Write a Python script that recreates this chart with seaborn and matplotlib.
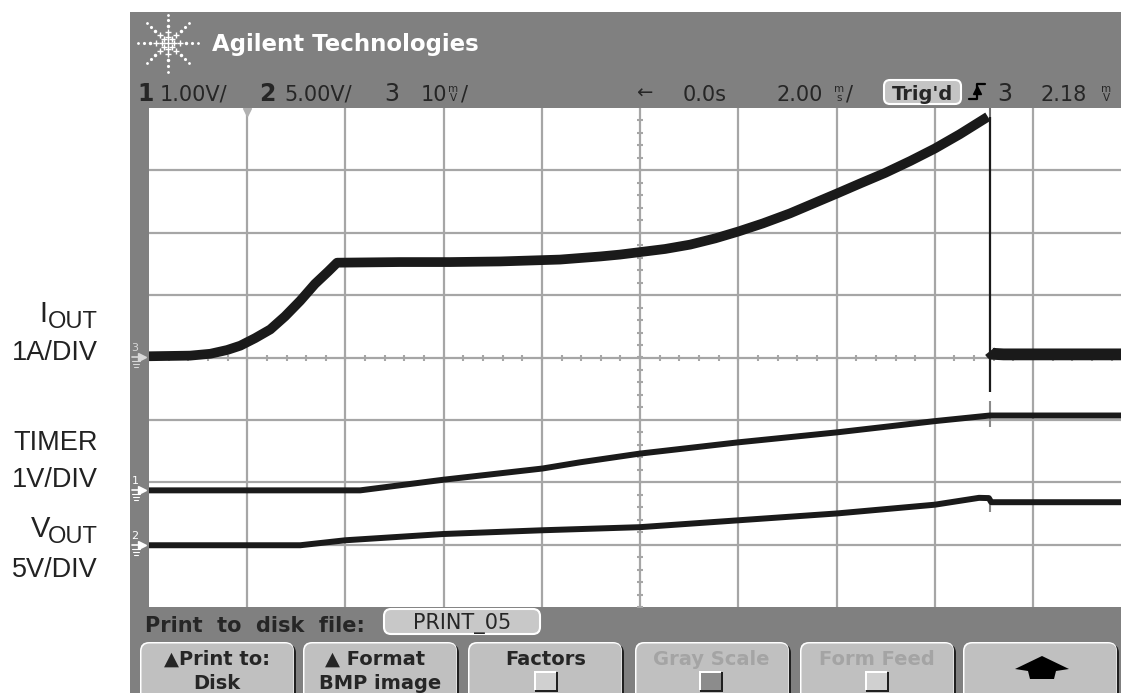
import matplotlib
matplotlib.use("Agg")
import numpy as np
import pandas as pd
import matplotlib.pyplot as plt
from matplotlib.patches import Rectangle, FancyBboxPatch, Polygon
import seaborn as sns

# ---- trace data (time in ms, 2 ms/div, trigger at 0) ----
iout_t = [-10.0, -9.16, -8.75, -8.41, -8.14, -7.84, -7.53, -7.23, -6.92, -6.62,
          -6.35, -6.17, -4.89, -3.87, -2.85, -1.63, -0.81, -0.41, 0.0, 0.51,
          1.02, 1.53, 2.0, 2.50, 3.05, 3.50, 4.01, 4.48, 4.99, 5.50, 6.0, 6.51, 7.08]
iout_a = [0.02, 0.03, 0.06, 0.12, 0.19, 0.31, 0.45, 0.66, 0.91, 1.18,
          1.38, 1.52, 1.53, 1.53, 1.54, 1.57, 1.62, 1.65, 1.69, 1.74,
          1.81, 1.91, 2.02, 2.15, 2.31, 2.46, 2.63, 2.79, 2.96, 3.15, 3.35, 3.58, 3.86]
trip_t = [7.12, 7.12]
trip_a = [3.86, -0.55]
iout_post_t = [7.12, 7.16, 7.4, 9.8]
iout_post_a = [0.10, 0.06, 0.05, 0.05]

timer_t = [-10.0, -5.70, -4.01, -1.99, -1.22, 0.0, 2.0, 4.01, 6.0, 7.12, 9.8]
timer_v = [0.0, 0.0, 0.17, 0.35, 0.45, 0.59, 0.77, 0.93, 1.11, 1.20, 1.20]

vout_t = [-10.0, -6.92, -6.0, -4.01, -2.0, 0.0, 2.0, 4.01, 6.0, 6.9, 7.1, 7.15, 9.8]
vout_v = [0.0, 0.0, 0.4, 0.9, 1.2, 1.45, 2.0, 2.55, 3.25, 3.8, 3.78, 3.45, 3.45]

# channel scale (units/div) and ground position (div from centre)
CH3_SCALE, CH3_GND = 1.0, 0.0     # IOUT 1A/DIV
CH1_SCALE, CH1_GND = 1.0, -2.13   # TIMER 1V/DIV
CH2_SCALE, CH2_GND = 5.0, -3.01   # VOUT 5V/DIV

W, H = 1121, 693
GRAY = "#808080"
GRID = "#a6a6a6"
TRACE = "#1a1a1a"
KEY = "#c0c0c0"
INK = "#222222"

sns.set_style("white")
plt.rcParams["font.family"] = ["DejaVu Sans"]
LABEL_FONT = ["Liberation Sans", "DejaVu Sans"]

fig = plt.figure(figsize=(W / 100, H / 100), dpi=100)
fig.patch.set_facecolor("white")

# overlay in pixel coordinates for the instrument frame
ov = fig.add_axes([0, 0, 1, 1])
ov.set_xlim(0, W)
ov.set_ylim(H, 0)
ov.axis("off")
ov.set_zorder(0)
ov.add_patch(Rectangle((130, 12), W - 130, H - 12, color=GRAY, lw=0))

ax = fig.add_axes([149 / W, (H - 607) / H, (W - 149) / W, 499 / H])
ax.set_zorder(1)
ax.set_facecolor("white")


def to_div(vals, scale, gnd):
    return [v / scale + gnd for v in vals]


iout = pd.DataFrame({"t": iout_t, "div": to_div(iout_a, CH3_SCALE, CH3_GND)})
post = pd.DataFrame({"t": iout_post_t, "div": to_div(iout_post_a, CH3_SCALE, CH3_GND)})
trip = pd.DataFrame({"t": trip_t, "div": to_div(trip_a, CH3_SCALE, CH3_GND)})
timer = pd.DataFrame({"t": timer_t, "div": to_div(timer_v, CH1_SCALE, CH1_GND)})
vout = pd.DataFrame({"t": vout_t, "div": to_div(vout_v, CH2_SCALE, CH2_GND)})

# graticule
ax.set_xlim(-10, (W - 640) / 98.25 * 2)
ax.set_ylim(-4, 4)
for x in np.arange(-8, 10, 2):
    ax.axvline(x, color=GRID, lw=1.6, zorder=1)
for y in np.arange(-3, 4, 1):
    ax.axhline(y, color=GRID, lw=1.6, zorder=1)
ticks_x = np.arange(-10, 10, 0.4)
ax.plot(ticks_x, np.zeros(len(ticks_x)), ls="none",
        marker="|", ms=5, mew=1.5, color=GRID, zorder=1)
ticks_y = np.arange(-4, 4, 0.2)
ax.plot(np.zeros(len(ticks_y)), ticks_y, ls="none", marker="_", ms=5, mew=1.5,
        color=GRID, zorder=1)
ax.plot([-8], [3.93], marker="v", ms=6, color="#b0b0b0", zorder=2)

# trip marker / fast edges
tt = trip_t[0]
ax.vlines([tt], [3.8], [4.0], color="#707070", lw=1.5, zorder=2)
ax.vlines([tt, tt], [-1.12, -2.48], [-0.70, -2.24], color="#8a8a8a", lw=1.5, zorder=2)

# traces
kw = dict(ax=ax, x="t", y="div", color=TRACE, sort=False, estimator=None, legend=False,
          zorder=3, solid_capstyle="butt", solid_joinstyle="round")
sns.lineplot(data=iout, linewidth=7, **kw)
sns.lineplot(data=post, linewidth=8.5, **kw)
sns.lineplot(data=trip, linewidth=1.6, **kw)
sns.lineplot(data=timer, linewidth=4.3, **kw)
sns.lineplot(data=vout, linewidth=4.3, **kw)

ax.set_xticks([])
ax.set_yticks([])
ax.set_xlabel("")
ax.set_ylabel("")
for s in ax.spines.values():
    s.set_visible(False)

# ---- header ----
ang = np.deg2rad(np.arange(0, 360, 45))
for r, m, ms in [(6, "+", 5), (12, "+", 5), (18, ".", 3), (24, ".", 2.5), (30, ".", 2)]:
    ov.plot(168 + r * np.cos(ang), 43 + r * 0.95 * np.sin(ang), ls="none", marker=m,
            ms=ms, mew=1, color="white")
ov.plot([168], [43], marker="+", ms=6, mew=1, color="white")
ov.text(212, 51, "Agilent Technologies", color="white", fontsize=16.5,
        fontweight="bold", va="baseline")

row = 101
ov.text(137, row, "1", fontsize=17, fontweight="bold", va="baseline")
ov.text(160, row, "1.00V/", fontsize=15, va="baseline")
ov.text(259, row, "2", fontsize=17, fontweight="bold", va="baseline")
ov.text(284, row, "5.00V/", fontsize=15, va="baseline")
ov.text(384, row, "3", fontsize=17, va="baseline")
ov.text(421, row, "10", fontsize=15, va="baseline")


def stacked(x, top, bot):
    ov.text(x, 92, top, fontsize=7.5, ha="center", va="baseline")
    ov.text(x, 101, bot, fontsize=7.5, ha="center", va="baseline")


stacked(453, "m", "V")
ov.text(461, row, "/", fontsize=15, va="baseline")

ov.text(644, row - 2, "←", fontsize=14, ha="center", va="baseline")
ov.text(683, row, "0.0s", fontsize=15, va="baseline")
ov.text(776, row, "2.00", fontsize=15, va="baseline")
stacked(839, "m", "s")
ov.text(846, row, "/", fontsize=15, va="baseline")

ov.add_patch(FancyBboxPatch((884, 80), 77, 24, boxstyle="round,pad=0,rounding_size=6",
                            fc="#c4c4c4", ec="white", lw=1.5))
ov.text(922, row - 1, "Trig'd", fontsize=14, fontweight="bold", ha="center", va="baseline")
ov.plot([969, 977, 977, 985], [99, 99, 84, 84], color="black", lw=1.6)
ov.plot([977], [90], marker="^", ms=6, color="black")
ov.text(997, row, "3", fontsize=17, va="baseline")
ov.text(1041, row, "2.18", fontsize=15, va="baseline")
stacked(1106, "m", "V")

# ---- channel ground markers ----
for lab, yg, col in [("3", 357, "#d8d8d8"), ("1", 490, "white"), ("2", 545, "white")]:
    ov.text(135, yg - 6, lab, fontsize=8, color=col, ha="center", va="baseline")
    ov.plot([142], [yg], marker=">", ms=6, color=col)
    ov.plot([132, 141], [yg, yg], color=col, lw=1.2)
    for i, w in enumerate([8, 6, 4]):
        ov.plot([136 - w / 2, 136 + w / 2], [yg + 4 + 3 * i] * 2, color=col, lw=0.8)

# ---- left labels ----
lab_kw = dict(family=LABEL_FONT, ha="right", va="baseline", color=INK)
ov.text(47, 322, "I", fontsize=21, **lab_kw)
ov.text(98, 328, "OUT", fontsize=17, **lab_kw)
ov.text(98, 360, "1A/DIV", fontsize=19.5, **lab_kw)
ov.text(98, 450, "TIMER", fontsize=19.5, **lab_kw)
ov.text(98, 487, "1V/DIV", fontsize=19.5, **lab_kw)
ov.text(50, 537, "V", fontsize=21, **lab_kw)
ov.text(98, 543, "OUT", fontsize=17, **lab_kw)
ov.text(98, 577, "5V/DIV", fontsize=19.5, **lab_kw)

# ---- bottom menu ----
ov.text(145, 632, "Print  to  disk  file:", fontsize=15, fontweight="bold", va="baseline")
ov.add_patch(FancyBboxPatch((384, 609), 156, 25, boxstyle="round,pad=0,rounding_size=7",
                            fc="#c8c8c8", ec="white", lw=1.5))
ov.text(462, 629, "PRINT_05", fontsize=15, ha="center", va="baseline")

keys = [140, 303, 468, 635, 800, 963]
for x0 in keys:
    ov.add_patch(FancyBboxPatch((x0 + 2, 644), 154, 70, boxstyle="round,pad=0,rounding_size=9",
                                fc="#202020", ec="none"))
    ov.add_patch(FancyBboxPatch((x0, 642), 154, 70, boxstyle="round,pad=0,rounding_size=9",
                                fc="white", ec="none"))
    ov.add_patch(FancyBboxPatch((x0 + 1.5, 643.5), 152, 68, boxstyle="round,pad=0,rounding_size=8",
                                fc=KEY, ec="none"))

ov.text(217, 665, "▲Print to:", fontsize=14, fontweight="bold", ha="center", va="baseline")
ov.text(217, 689, "Disk", fontsize=14, fontweight="bold", ha="center", va="baseline")
ov.text(375, 665, "▲ Format", fontsize=14, fontweight="bold", ha="center", va="baseline")
ov.text(380, 689, "BMP image", fontsize=14, fontweight="bold", ha="center", va="baseline")
ov.text(546, 665, "Factors", fontsize=14, fontweight="bold", ha="center", va="baseline")
ov.text(711, 665, "Gray Scale", fontsize=14, fontweight="bold", color="#a4a4a4",
        ha="center", va="baseline")
ov.text(877, 665, "Form Feed", fontsize=14, fontweight="bold", color="#a4a4a4",
        ha="center", va="baseline")
for cx, fc in [(546, "#d0d0d0"), (711, "#8c8c8c"), (877, "#d0d0d0")]:
    ov.add_patch(Rectangle((cx - 11, 672), 23, 20, fc="#202020", ec="none"))
    ov.add_patch(Rectangle((cx - 12, 671), 22, 19, fc="white", ec="none"))
    ov.add_patch(Rectangle((cx - 10.5, 672.5), 20.5, 17.5, fc=fc, ec="none"))
ov.add_patch(Polygon([(1042, 656), (1069, 669), (1056, 671), (1054, 679),
                      (1030, 679), (1028, 671), (1015, 669)],
                     closed=True, fc="black", ec="none"))

fig.savefig("out.png", dpi=100)
